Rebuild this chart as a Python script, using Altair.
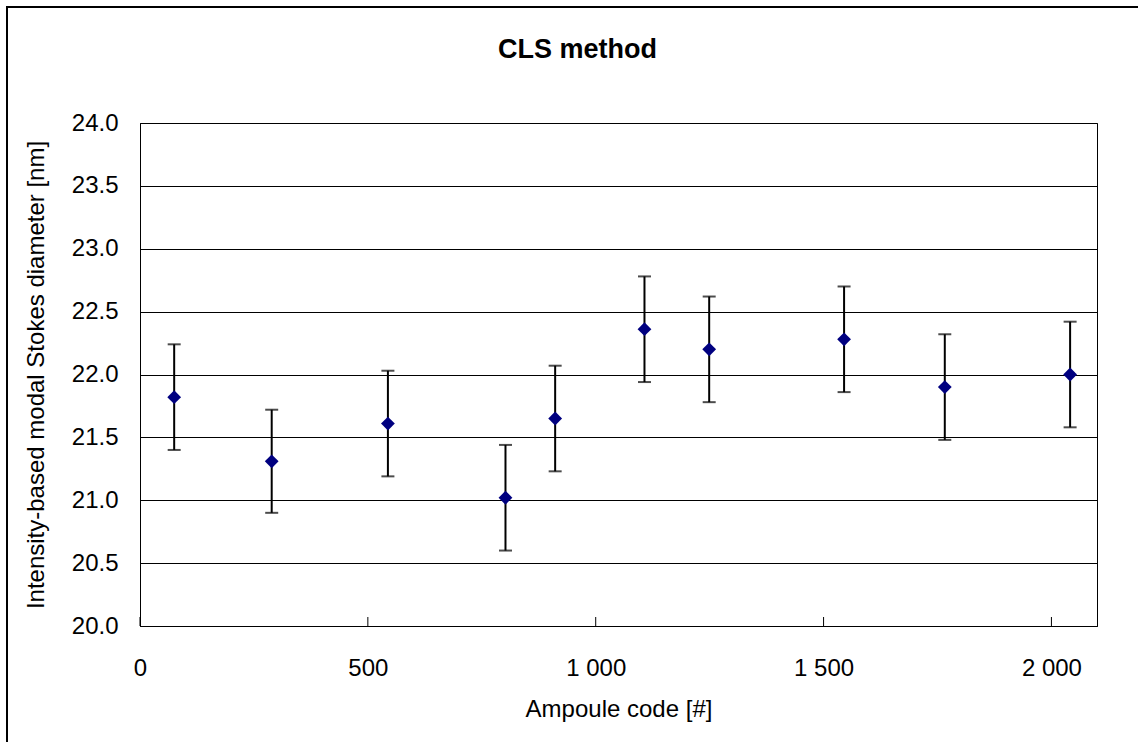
import altair as alt
import pandas as pd

# ---- data ----
ampoule = [75, 289, 544, 802, 911, 1107, 1249, 1545, 1766, 2041]
diameter = [21.82, 21.31, 21.61, 21.02, 21.65, 22.36, 22.20, 22.28, 21.90, 22.00]
uncert = [0.42, 0.41, 0.42, 0.42, 0.42, 0.42, 0.42, 0.42, 0.42, 0.42]
x_ticks = [0, 500, 1000, 1500, 2000]
y_ticks = [20.0, 20.5, 21.0, 21.5, 22.0, 22.5, 23.0, 23.5, 24.0]

df = pd.DataFrame({
    "ampoule": ampoule,
    "d": diameter,
    "lo": [d - u for d, u in zip(diameter, uncert)],
    "hi": [d + u for d, u in zip(diameter, uncert)],
})
tick_df = pd.DataFrame({"ampoule": x_ticks})

W, H = 957, 503
FONT = "Liberation Sans"

xscale = alt.Scale(domain=[0, 2100], nice=False, zero=False)
yscale = alt.Scale(domain=[20, 24], nice=False, zero=False)

x_axis = alt.Axis(
    values=x_ticks,
    labelExpr="replace(format(datum.value, ','), ',', ' ')",
    title="Ampoule code [#]",
    grid=False, ticks=False, tickSize=0, labelFlush=False,
    labelPadding=49, labelBaseline="alphabetic",
    labelFontSize=24, titleFontSize=24, titleFontWeight="normal",
    titleX=W / 2, titleY=90, titleBaseline="alphabetic", titleAlign="center",
    domainColor="black", domainWidth=1,
)
y_axis = alt.Axis(
    values=y_ticks, format=".1f",
    title="Intensity-based modal Stokes diameter [nm]",
    grid=True, gridColor="black", gridWidth=1, gridOpacity=1,
    ticks=False, tickSize=0, labelPadding=22, labelFlush=False,
    labelFontSize=24, titleFontSize=24, titleFontWeight="normal",
    titleAngle=-90, titleX=-97, titleY=H / 2,
    titleBaseline="alphabetic", titleAlign="center",
    domainColor="black", domainWidth=1,
)

X = alt.X("ampoule:Q", scale=xscale, axis=x_axis)

border = alt.Chart(pd.DataFrame({"k": [0]})).mark_rect(
    filled=False, stroke="black", strokeWidth=2
).encode(
    x=alt.value(-133), x2=alt.value(W + 120),
    y=alt.value(-116), y2=alt.value(H + 160),
)

inner_ticks = alt.Chart(tick_df).mark_rule(color="black", strokeWidth=1).encode(
    x=X, y=alt.value(H - 9), y2=alt.value(H)
)

base = alt.Chart(df)
bars = base.mark_rule(color="black", strokeWidth=2).encode(
    x=X, y=alt.Y("lo:Q", scale=yscale, axis=y_axis), y2="hi:Q"
)
cap_lo = base.mark_tick(orient="horizontal", size=13, thickness=2, color="black").encode(
    x=X, y=alt.Y("lo:Q", scale=yscale, axis=y_axis)
)
cap_hi = base.mark_tick(orient="horizontal", size=13, thickness=2, color="black").encode(
    x=X, y=alt.Y("hi:Q", scale=yscale, axis=y_axis)
)
points = base.mark_point(shape="diamond", filled=True, size=190, color="#000080", opacity=1).encode(
    x=X, y=alt.Y("d:Q", scale=yscale, axis=y_axis)
)

chart = alt.layer(border, inner_ticks, bars, cap_lo, cap_hi, points).properties(
    width=W, height=H,
    title=alt.TitleParams(
        text="CLS method", font=FONT, fontSize=27, fontWeight="bold",
        color="black", anchor="middle", dx=-41, dy=79, baseline="alphabetic", offset=0,
    ),
    padding={"left": 140, "top": 123, "right": 41, "bottom": 116},
    autosize=alt.AutoSizeParams(type="none"),
    background="white",
).configure_view(
    stroke="black", strokeWidth=1
).configure_axis(
    labelFont=FONT, titleFont=FONT, labelColor="black", titleColor="black"
)

chart.save("out.html", embed_options={"renderer": "svg", "actions": False})
